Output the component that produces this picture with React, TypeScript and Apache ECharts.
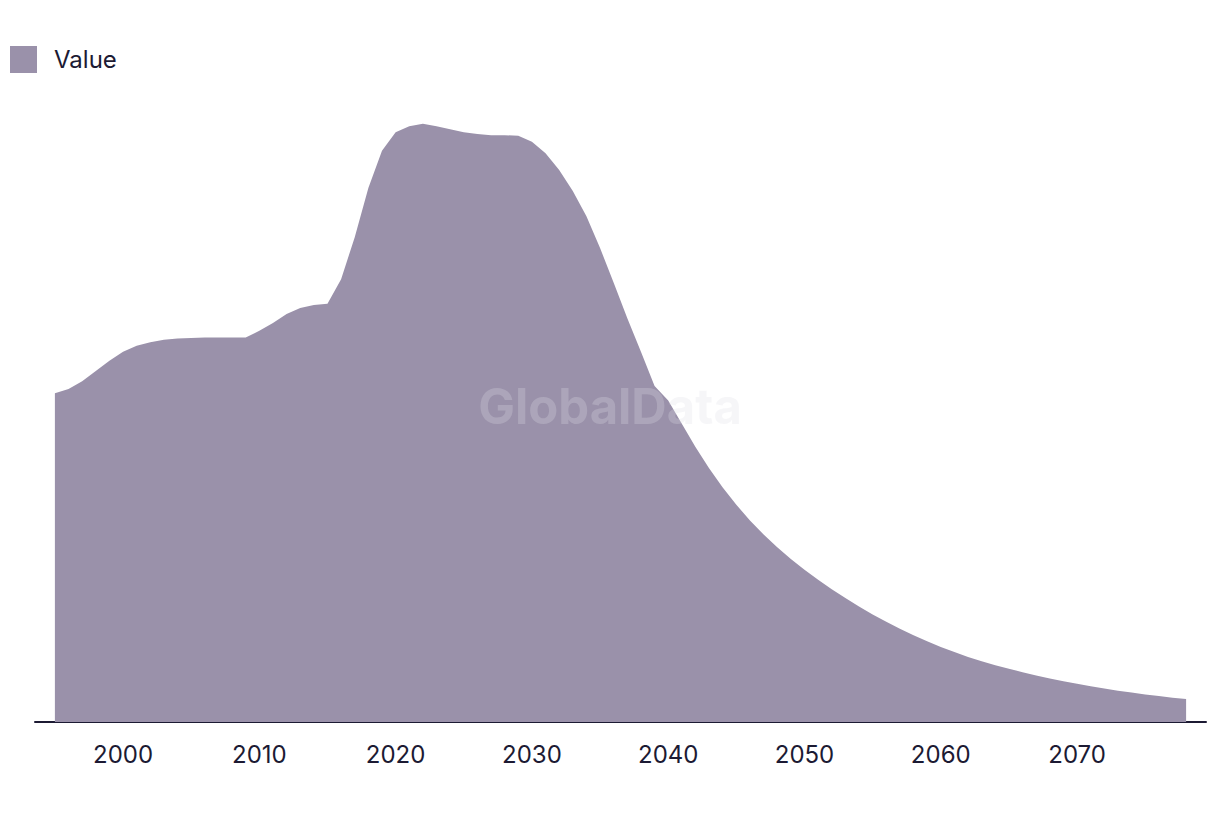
import React, { useEffect, useRef } from "react";
import * as echarts from "echarts";

const years: number[] = [];
for (let y = 1995; y <= 2078; y++) years.push(y);

const values: number[] = [
  54.8, 55.5, 56.8, 58.5, 60.2, 61.7, 62.7, 63.3, 63.7, 63.9,
  64.0, 64.1, 64.1, 64.1, 64.1, 65.2, 66.5, 68.0, 69.0, 69.5,
  69.7, 73.8, 80.8, 89.0, 95.2, 98.3, 99.3, 99.7, 99.3, 98.8,
  98.3, 98.0, 97.8, 97.8, 97.7, 96.7, 94.8, 92.0, 88.5, 84.3,
  79.0, 73.2, 67.3, 61.7, 56.0, 53.6, 49.7, 45.85, 42.3, 39.1,
  36.2, 33.6, 31.25, 29.13, 27.18, 25.38, 23.7, 22.13, 20.65, 19.25,
  17.93, 16.69, 15.53, 14.45, 13.45, 12.52, 11.65, 10.85, 10.12, 9.46,
  8.86, 8.3, 7.77, 7.27, 6.8, 6.36, 5.95, 5.57, 5.22, 4.9,
  4.6, 4.32, 4.06, 3.82,
];

const tickYears: number[] = [2000, 2010, 2020, 2030, 2040, 2050, 2060, 2070];
const seriesName = "Value";
const watermark = "GlobalData";

export default function App() {
  const ref = useRef<HTMLDivElement>(null);
  useEffect(() => {
    if (!ref.current) return;
    const chart = echarts.init(ref.current, undefined, { renderer: "svg" });
    const fill = "#9a91aa";
    const ink = "#1c1a33";
    chart.setOption({
      animation: false,
      textStyle: { fontFamily: "Inter, 'Noto Sans', sans-serif" },
      legend: {
        show: true,
        left: 10,
        top: 46,
        padding: 0,
        icon: "rect",
        itemWidth: 27,
        itemHeight: 27,
        textStyle: { color: ink, fontSize: 24, padding: [0, 0, 0, 12] },
        data: [seriesName],
      },
      grid: { left: 35, right: 14, top: 122, bottom: 92, containLabel: false },
      xAxis: {
        type: "value",
        min: 1993.54,
        max: 2079.46,
        axisLine: { show: true, lineStyle: { color: ink, width: 2 } },
        axisTick: { show: false },
        splitLine: { show: false },
        axisLabel: {
          customValues: tickYears,
          formatter: (v: number) => String(v),
          color: ink,
          fontSize: 24,
          margin: 20,
        },
      },
      yAxis: {
        type: "value",
        min: 0,
        max: 100,
        show: false,
        splitLine: { show: false },
      },
      graphic: [
        {
          type: "text",
          left: "center",
          top: 382,
          z: 100,
          style: {
            text: watermark,
            fontSize: 49,
            fontWeight: "bold",
            fontFamily: "Inter, sans-serif",
            fill: "rgba(220,220,228,0.27)",
          },
        },
      ],
      series: [
        {
          name: seriesName,
          type: "line",
          data: years.map((y, i) => [y, values[i]]),
          showSymbol: false,
          symbol: "none",
          lineStyle: { width: 0, color: fill },
          itemStyle: { color: fill },
          areaStyle: { color: fill, opacity: 1 },
        },
      ],
    });
    return () => chart.dispose();
  }, []);
  return <div ref={ref} style={{ width: 1220, height: 814, position: "absolute", left: 0, top: 0 }} />;
}
